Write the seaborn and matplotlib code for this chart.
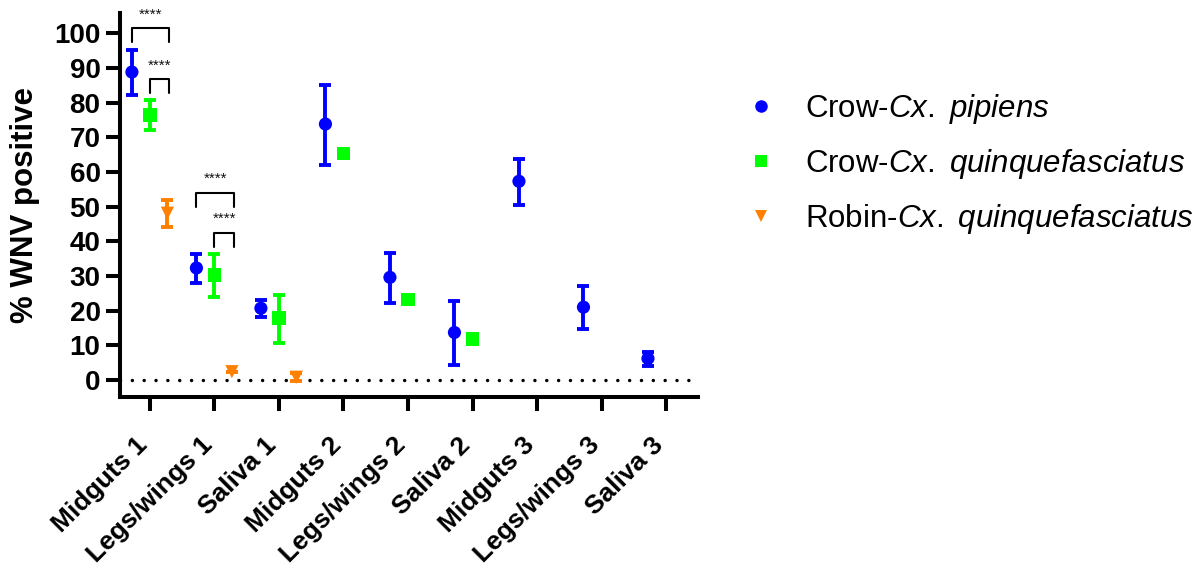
import numpy as np
import pandas as pd
import matplotlib
matplotlib.use("Agg")
import matplotlib.pyplot as plt
import matplotlib.transforms as mtransforms
from matplotlib.lines import Line2D
import seaborn as sns

categories = ["Midguts 1", "Legs/wings 1", "Saliva 1", "Midguts 2", "Legs/wings 2",
              "Saliva 2", "Midguts 3", "Legs/wings 3", "Saliva 3"]

groups = ["Crow-Cx. pipiens", "Crow-Cx. quinquefasciatus", "Robin-Cx. quinquefasciatus"]
group_labels = [r"Crow-$\mathit{Cx.}$ $\mathit{pipiens}$",
                r"Crow-$\mathit{Cx.}$ $\mathit{quinquefasciatus}$",
                r"Robin-$\mathit{Cx.}$ $\mathit{quinquefasciatus}$"]

pip_mean = [88.8, 32.3, 20.7, 73.8, 29.6, 13.7, 57.3, 21.0, 6.2]
pip_lo   = [82.1, 28.0, 18.2, 62.0, 22.2, 4.3, 50.4, 14.7, 4.0]
pip_hi   = [95.1, 36.3, 23.1, 85.0, 36.6, 22.8, 63.7, 27.1, 8.1]

quin_mean = [76.4, 30.3, 17.9, 65.4, 23.3, 11.8, np.nan, np.nan, np.nan]
quin_lo   = [72.0, 24.0, 10.7, 65.4, 23.3, 11.8, np.nan, np.nan, np.nan]
quin_hi   = [80.7, 36.3, 24.5, 65.4, 23.3, 11.8, np.nan, np.nan, np.nan]

rob_mean = [48.1, 2.4, 0.8, np.nan, np.nan, np.nan, np.nan, np.nan, np.nan]
rob_lo   = [44.1, 2.4, -0.3, np.nan, np.nan, np.nan, np.nan, np.nan, np.nan]
rob_hi   = [51.9, 2.4, 1.9, np.nan, np.nan, np.nan, np.nan, np.nan, np.nan]

# significance brackets: (category index, left group, right group, bracket top value)
sig_cat   = [0, 0, 1, 1]
sig_left  = [0, 1, 0, 1]
sig_right = [2, 2, 2, 2]
sig_top   = [101.4, 86.7, 53.9, 42.4]
sig_text  = ["****", "****", "****", "****"]

colors = ["#0000FF", "#00FF00", "#FF8000"]
markers = ["o", "s", "v"]
offsets = [-0.28, 0.0, 0.27]

means = [pip_mean, quin_mean, rob_mean]
los = [pip_lo, quin_lo, rob_lo]
his = [pip_hi, quin_hi, rob_hi]

rows = []
for g, name in enumerate(groups):
    for i, c in enumerate(categories):
        m = means[g][i]
        if not np.isnan(m):
            rows.append(dict(group=name, xpos=i + offsets[g], value=m,
                             lo=los[g][i], hi=his[g][i]))
df = pd.DataFrame(rows)

sns.set_style("ticks")
plt.rcParams["font.family"] = ["Liberation Sans", "DejaVu Sans"]
plt.rcParams["mathtext.fontset"] = "custom"
plt.rcParams["mathtext.rm"] = "Liberation Sans"
plt.rcParams["mathtext.it"] = "Liberation Sans:italic"
for k in ["text.color", "axes.labelcolor", "xtick.color", "ytick.color",
          "axes.edgecolor"]:
    plt.rcParams[k] = "black"

fig = plt.figure(figsize=(12.01, 5.69), dpi=100)
ax = fig.add_axes([0.0999, 0.3023, 0.4813, 0.6747])

# zero reference line
ax.axhline(0, color="black", lw=2.5, linestyle=(0, (0.01, 3.4)),
           dash_capstyle="round", zorder=1)

for g, name in enumerate(groups):
    sub = df[df.group == name]
    ax.errorbar(sub.xpos, sub.value,
                yerr=[sub.value - sub.lo, sub.hi - sub.value],
                fmt="none", ecolor=colors[g], elinewidth=2.8, capsize=4.4,
                capthick=2.8, zorder=2, clip_on=False)

sns.scatterplot(data=df, x="xpos", y="value", hue="group", style="group",
                hue_order=groups, style_order=groups,
                palette=dict(zip(groups, colors)),
                markers=dict(zip(groups, markers)),
                s=90, linewidth=0, legend=False, ax=ax, zorder=3, clip_on=False)

# significance brackets
leg = 4.0
for c, l, r, top, t in zip(sig_cat, sig_left, sig_right, sig_top, sig_text):
    x1 = c + offsets[l]
    x2 = c + offsets[r] + 0.03
    ax.plot([x1, x1, x2, x2], [top - leg, top, top, top - leg], color="black",
            lw=1.5, clip_on=False, zorder=4)
    ax.text((x1 + x2) / 2, top + 4.0, t, ha="center", va="center",
            fontsize=11, color="#111111", clip_on=False)

ax.set_xlim(-0.465, 8.496)
ax.set_ylim(-4.9, 105.8)
ax.set_yticks(np.arange(0, 101, 10))
ax.set_xticks(range(len(categories)))
ax.set_xticklabels(categories, rotation=45, ha="right", va="center",
                   rotation_mode="anchor", fontsize=19, fontweight="bold")
for lab in ax.get_yticklabels():
    lab.set_fontsize(20)
    lab.set_fontweight("bold")
ax.set_xlabel("")
ax.set_ylabel("% WNV positive", fontsize=22.5, fontweight="bold", labelpad=10)

sns.despine(ax=ax)
for s in ["left", "bottom"]:
    ax.spines[s].set_linewidth(2.9)
    ax.spines[s].set_color("black")
ax.tick_params(axis="both", width=2.9, length=10, color="black", labelcolor="black")
ax.tick_params(axis="x", pad=22)
ax.tick_params(axis="y", pad=4)

shift = mtransforms.ScaledTranslation(-0.06, 0, fig.dpi_scale_trans)
for lab in ax.get_xticklabels():
    lab.set_transform(lab.get_transform() + shift)

handles = [Line2D([], [], linestyle="none", marker=markers[g], color=colors[g],
                  markersize=9, markeredgewidth=0) for g in range(3)]
fig.legend(handles, group_labels, loc="upper left", bbox_to_anchor=(0.597, 0.888),
           frameon=False, fontsize=22.5, handletextpad=0.93, labelspacing=0.68,
           handlelength=1.0)

fig.savefig("out.png", dpi=100)
